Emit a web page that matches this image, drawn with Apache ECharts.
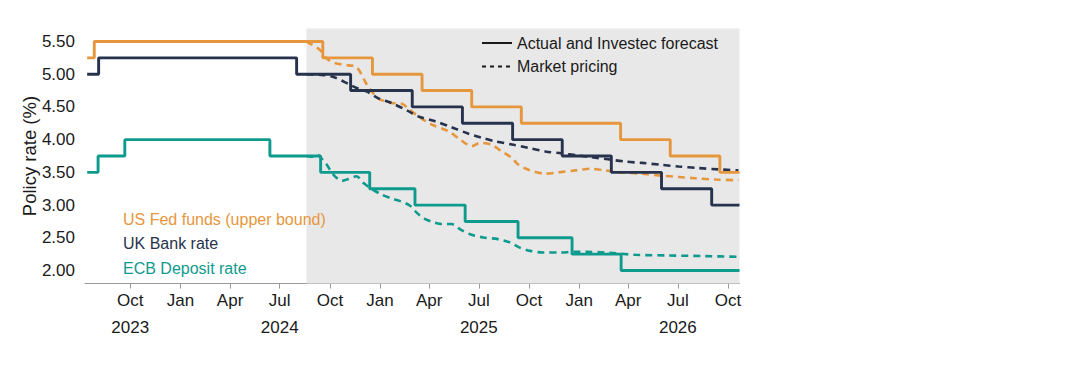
<!DOCTYPE html>
<html>
<head>
<meta charset="utf-8">
<script src="https://cdn.jsdelivr.net/npm/echarts@6/dist/echarts.min.js"></script>
<style>html,body{margin:0;padding:0;background:#fff;}#c{width:1088px;height:370px;}</style>
</head>
<body>
<div id="c"></div>
<script>
// ---- Data ----
const xStart = '2023-07-10';
const xEnd = '2026-10-22';
const forecastStart = '2024-08-19';
const quarterTicks = ['2023-10-01','2024-01-01','2024-04-01','2024-07-01','2024-10-01','2025-01-01','2025-04-01','2025-07-01','2025-10-01','2026-01-01','2026-04-01','2026-07-01','2026-10-01'];
const yTicks = [2.0, 2.5, 3.0, 3.5, 4.0, 4.5, 5.0, 5.5];

const fedDates = ['2023-07-14','2023-07-27','2024-09-18','2024-12-18','2025-03-19','2025-06-18','2025-09-17','2026-03-18','2026-06-17','2026-09-16','2026-10-22'];
const fedValues = [5.25, 5.50, 5.25, 5.00, 4.75, 4.50, 4.25, 4.00, 3.75, 3.50, 3.50];

const ukDates = ['2023-07-14','2023-08-04','2024-08-01','2024-11-08','2025-03-01','2025-06-01','2025-09-01','2025-12-01','2026-03-01','2026-06-01','2026-09-01','2026-10-22'];
const ukValues = [5.00, 5.25, 5.00, 4.75, 4.50, 4.25, 4.00, 3.75, 3.50, 3.25, 3.00, 3.00];

const ecbDates = ['2023-07-14','2023-08-03','2023-09-21','2024-06-13','2024-09-14','2024-12-13','2025-03-06','2025-06-06','2025-09-11','2025-12-19','2026-03-19','2026-10-22'];
const ecbValues = [3.50, 3.75, 4.00, 3.75, 3.50, 3.25, 3.00, 2.75, 2.50, 2.25, 2.00, 2.00];

const fedMktDates = ['2024-08-19','2024-09-13','2024-09-25','2024-10-10','2024-11-04','2024-11-19','2024-12-08','2024-12-28','2025-01-22','2025-02-10','2025-02-21','2025-03-12','2025-04-06','2025-05-06','2025-05-28','2025-06-18','2025-07-03','2025-07-24','2025-08-12','2025-08-31','2025-09-11','2025-09-30','2025-10-31','2025-11-24','2025-12-25','2026-01-21','2026-02-17','2026-03-20','2026-04-26','2026-06-01','2026-07-02','2026-08-02','2026-09-08','2026-10-20'];
const fedMktValues = [5.50, 5.37, 5.24, 5.17, 5.135, 5.11, 4.84, 4.635, 4.56, 4.55, 4.48, 4.355, 4.23, 4.13, 4.00, 3.90, 3.95, 3.925, 3.82, 3.72, 3.62, 3.54, 3.48, 3.50, 3.53, 3.555, 3.53, 3.50, 3.48, 3.45, 3.43, 3.41, 3.39, 3.38];

const ukMktDates = ['2024-08-19','2024-09-16','2024-10-10','2024-11-04','2024-11-19','2024-12-08','2024-12-28','2025-01-22','2025-02-21','2025-03-12','2025-04-12','2025-05-12','2025-06-09','2025-07-06','2025-07-31','2025-08-31','2025-09-30','2025-10-31','2025-11-30','2025-12-28','2026-01-24','2026-02-23','2026-03-26','2026-04-26','2026-06-01','2026-07-02','2026-08-08','2026-09-14','2026-10-20'];
const ukMktValues = [5.00, 4.99, 4.95, 4.85, 4.79, 4.735, 4.635, 4.56, 4.44, 4.355, 4.28, 4.19, 4.10, 4.03, 3.975, 3.925, 3.875, 3.82, 3.79, 3.76, 3.73, 3.70, 3.665, 3.645, 3.615, 3.59, 3.565, 3.545, 3.53];

const ecbMktDates = ['2024-08-19','2024-08-28','2024-09-08','2024-09-16','2024-09-25','2024-10-07','2024-10-23','2024-11-04','2024-11-19','2024-12-01','2024-12-16','2025-01-04','2025-01-22','2025-02-07','2025-02-25','2025-03-09','2025-03-24','2025-04-12','2025-04-24','2025-05-12','2025-05-28','2025-06-15','2025-07-09','2025-08-05','2025-08-27','2025-09-14','2025-10-03','2025-10-27','2025-11-27','2025-12-22','2026-01-15','2026-02-17','2026-04-14','2026-06-14','2026-08-20','2026-10-20'];
const ecbMktValues = [3.75, 3.74, 3.77, 3.71, 3.62, 3.47, 3.37, 3.40, 3.44, 3.34, 3.25, 3.16, 3.10, 3.06, 2.99, 2.885, 2.79, 2.73, 2.71, 2.71, 2.63, 2.555, 2.505, 2.48, 2.43, 2.35, 2.30, 2.275, 2.275, 2.285, 2.285, 2.275, 2.24, 2.23, 2.22, 2.21];

const seriesNames = ['US Fed funds (upper bound)', 'UK Bank rate', 'ECB Deposit rate'];
const legendNames = ['Actual and Investec forecast', 'Market pricing'];
const monthNames = ['Jan','Feb','Mar','Apr','May','Jun','Jul','Aug','Sep','Oct','Nov','Dec'];

// ---- Styling ----
const C_FED = '#E6973D', C_UK = '#27334D', C_ECB = '#0F9A8E';
const FONT = "'Liberation Sans', Arial, sans-serif";
const ts = s => echarts.number.parseDate(s).getTime();
const zip = (d, v) => d.map((x, i) => [ts(x), v[i]]);

function solid(name, d, v, color) {
  return { name, type: 'line', step: 'end', data: zip(d, v), symbol: 'none', z: 3,
    lineStyle: { color, width: 2.9 }, itemStyle: { color }, silent: true };
}
function dashed(name, d, v, color) {
  return { name, type: 'line', data: zip(d, v), symbol: 'none', smooth: 0.3, z: 3,
    lineStyle: { color, width: 2.6, type: [7, 5] }, itemStyle: { color }, silent: true };
}

const chart = echarts.init(document.getElementById('c'), null, { renderer: 'svg' });
chart.setOption({
  animation: false,
  backgroundColor: '#ffffff',
  grid: { left: 85, right: 348.5, top: 28.4, bottom: 86.4, containLabel: false },
  xAxis: {
    type: 'value', min: ts(xStart), max: ts(xEnd),
    axisLine: { show: true, lineStyle: { color: '#9a9a9a', width: 1 } },
    axisTick: { show: true, length: 5, lineStyle: { color: '#9a9a9a' }, customValues: quarterTicks.map(ts) },
    splitLine: { show: false },
    axisLabel: {
      customValues: quarterTicks.map(ts),
      color: '#1a1a1a', fontFamily: FONT, fontSize: 17, lineHeight: 27, margin: 3,
      formatter: function (val) {
        const d = new Date(val);
        const m = d.getMonth(), y = d.getFullYear();
        const yr = ((m === 9 && y === 2023) || m === 6) ? String(y) : ' ';
        return monthNames[m] + '\n' + yr;
      }
    }
  },
  yAxis: {
    type: 'value', min: 1.8, max: 5.7,
    name: 'Policy rate (%)', nameLocation: 'middle', nameGap: 46, nameRotate: 90,
    nameMoveOverlap: false,
    nameTextStyle: { color: '#1a1a1a', fontFamily: FONT, fontSize: 18.5 },
    axisLine: { show: false }, axisTick: { show: false }, splitLine: { show: false },
    axisLabel: {
      customValues: yTicks, margin: 10,
      color: '#1a1a1a', fontFamily: FONT, fontSize: 17,
      formatter: v => v.toFixed(2)
    }
  },
  legend: {
    data: legendNames, orient: 'vertical', left: 481, top: 35, padding: 0,
    itemWidth: 30, itemHeight: 14, itemGap: 7.5,
    textStyle: { color: '#1a1a1a', fontFamily: FONT, fontSize: 16 },
    selectedMode: false
  },
  graphic: [
    { type: 'text', z: 50, x: 123, y: 219, style: { text: seriesNames[0], fill: C_FED, font: '16px ' + FONT, verticalAlign: 'middle' } },
    { type: 'text', z: 50, x: 123, y: 243, style: { text: seriesNames[1], fill: C_UK, font: '16px ' + FONT, verticalAlign: 'middle' } },
    { type: 'text', z: 50, x: 123, y: 268.5, style: { text: seriesNames[2], fill: C_ECB, font: '16px ' + FONT, verticalAlign: 'middle' } }
  ],
  series: [
    { name: 'shade', type: 'line', data: [[ts(forecastStart), 1.8]], symbol: 'none', z: 1, silent: true,
      lineStyle: { opacity: 0 },
      markArea: { silent: true, itemStyle: { color: '#e8e8e8' },
        data: [[{ xAxis: ts(forecastStart) }, { xAxis: ts(xEnd) }]] } },
    { name: legendNames[0], type: 'line', data: [], symbol: 'none', lineStyle: { color: '#1a1a1a', width: 1.2 }, itemStyle: { color: '#1a1a1a', opacity: 0 } },
    { name: legendNames[1], type: 'line', data: [], symbol: 'none', lineStyle: { color: '#1a1a1a', width: 1.5, type: [4, 4] }, itemStyle: { color: '#1a1a1a', opacity: 0 } },
    dashed('Fed market', fedMktDates, fedMktValues, C_FED),
    dashed('UK market', ukMktDates, ukMktValues, C_UK),
    dashed('ECB market', ecbMktDates, ecbMktValues, C_ECB),
    solid(seriesNames[0], fedDates, fedValues, C_FED),
    solid(seriesNames[1], ukDates, ukValues, C_UK),
    solid(seriesNames[2], ecbDates, ecbValues, C_ECB)
  ]
});
</script>
</body>
</html>
